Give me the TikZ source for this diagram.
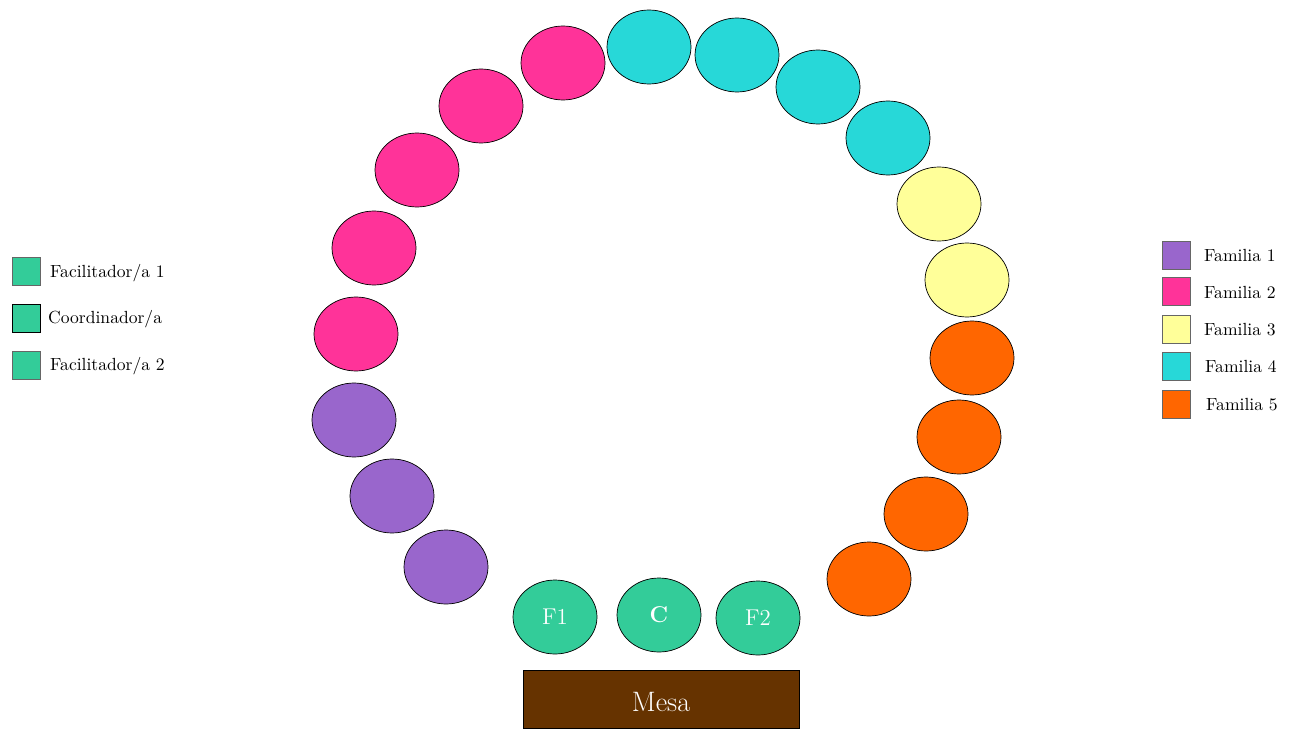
\documentclass[tikz,border=0pt]{standalone}
\usetikzlibrary{shapes.geometric}

\definecolor{fampurple}{HTML}{9966CC}
\definecolor{fampink}{HTML}{FF3399}
\definecolor{famyellow}{HTML}{FFFF99}
\definecolor{famcyan}{HTML}{27D8D8}
\definecolor{famorange}{HTML}{FF6600}
\definecolor{staffgreen}{HTML}{33CC99}
\definecolor{tablebrown}{HTML}{663300}

\begin{document}
\begin{tikzpicture}[
    x=0.02cm, y=-0.02cm,
    seat/.style={
        ellipse,
        draw,
        minimum width=1.68cm,
        minimum height=1.48cm,
        inner sep=0pt
    },
    staff/.style={
        seat,
        fill=staffgreen,
        text=white,
        font=\fontsize{13}{15}\selectfont
    },
    swatch/.style={
        draw=black!60,
        minimum size=0.56cm,
        inner sep=0pt
    },
    legtext/.style={
        anchor=west,
        font=\fontsize{10}{12}\selectfont
    }
]

\useasboundingbox (0,0) rectangle (1293,729);

% Familia 1
\node[seat, fill=fampurple] (f1a) at (354,420) {};
\node[seat, fill=fampurple] (f1b) at (392,496) {};
\node[seat, fill=fampurple] (f1c) at (446,567) {};

% Familia 2
\node[seat, fill=fampink] (f2a) at (356,334) {};
\node[seat, fill=fampink] (f2b) at (374,248) {};
\node[seat, fill=fampink] (f2c) at (417,170) {};
\node[seat, fill=fampink] (f2d) at (481,106) {};
\node[seat, fill=fampink] (f2e) at (563,63) {};

% Familia 4
\node[seat, fill=famcyan] (f4a) at (649,47) {};
\node[seat, fill=famcyan] (f4b) at (737,55) {};
\node[seat, fill=famcyan] (f4c) at (818,87) {};
\node[seat, fill=famcyan] (f4d) at (888,138) {};

% Familia 3
\node[seat, fill=famyellow] (f3a) at (939,204) {};
\node[seat, fill=famyellow] (f3b) at (967,280) {};

% Familia 5
\node[seat, fill=famorange] (f5a) at (972,358) {};
\node[seat, fill=famorange] (f5b) at (959,437) {};
\node[seat, fill=famorange] (f5c) at (926,514) {};
\node[seat, fill=famorange] (f5d) at (869,579) {};

% Facilitadores y coordinador/a
\node[staff] (F1) at (555,617) {F1};
\node[staff] (C) at (659,615) {\textbf{C}};
\node[staff] (F2) at (758,618) {F2};

% Mesa
\node[draw, fill=tablebrown, text=white, minimum width=5.52cm,
      minimum height=1.16cm, text depth=0pt,
      font=\fontsize{16}{18}\selectfont]
      (mesa) at (661,699) {\raisebox{-0.12cm}{Mesa}};

% Leyenda izquierda
\node[swatch, fill=staffgreen] (lf1) at (26,271) {};
\node[swatch, fill=staffgreen, draw=black] (lc) at (26,318) {};
\node[swatch, fill=staffgreen] (lf2) at (26,365) {};
\node[legtext] (tf1) at (44,273) {Facilitador/a 1};
\node[legtext] (tc) at (42,319) {Coordinador/a};
\node[legtext] (tf2) at (44,366) {Facilitador/a 2};

% Leyenda derecha
\node[swatch, fill=fampurple] (l1) at (1176,255) {};
\node[swatch, fill=fampink] (l2) at (1176,291) {};
\node[swatch, fill=famyellow] (l3) at (1176,329) {};
\node[swatch, fill=famcyan] (l4) at (1176,366) {};
\node[swatch, fill=famorange] (l5) at (1176,404) {};
\node[legtext] (t1) at (1198,255) {Familia 1};
\node[legtext] (t2) at (1198,292) {Familia 2};
\node[legtext] (t3) at (1198,330) {Familia 3};
\node[legtext] (t4) at (1199,366) {Familia 4};
\node[legtext] (t5) at (1200,405) {Familia 5};

\end{tikzpicture}
\end{document}
